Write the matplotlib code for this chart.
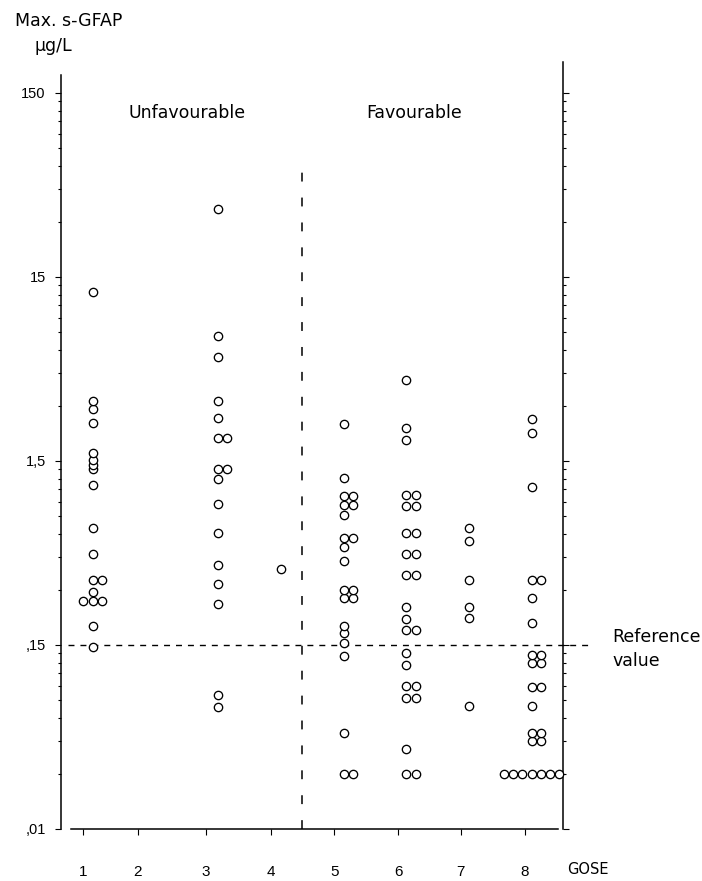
import numpy as np
import matplotlib
matplotlib.use("Agg")
import matplotlib.pyplot as plt
from matplotlib.ticker import FixedLocator, FixedFormatter

plt.rcParams['font.family'] = ['Liberation Sans', 'DejaVu Sans']

# ---------------- data (Max. s-GFAP, ug/L) ----------------
gose_categories = [1, 2, 3, 4, 5, 6, 7, 8]
gose1 = [12.5, 3.19, 2.86, 2.40, 1.66, 1.51, 1.43, 1.35, 1.11, 0.65, 0.47,
         0.34, 0.34, 0.29, 0.26, 0.26, 0.26, 0.19, 0.146]
gose2 = []
gose3 = [35.0, 7.2, 5.5, 3.19, 2.56, 2.0, 2.0, 1.35, 1.35, 1.19, 0.88, 0.61,
         0.41, 0.32, 0.25, 0.08, 0.069]
gose4 = [0.39]
gose5 = [2.38, 1.21, 0.97, 0.97, 0.865, 0.865, 0.76, 0.57, 0.57, 0.51, 0.43,
         0.30, 0.30, 0.27, 0.27, 0.19, 0.174, 0.153, 0.13, 0.05, 0.03, 0.03]
gose6 = [4.13, 2.26, 1.95, 0.98, 0.98, 0.85, 0.85, 0.61, 0.61, 0.47, 0.47,
         0.36, 0.36, 0.242, 0.208, 0.182, 0.182, 0.136, 0.117, 0.09, 0.09,
         0.077, 0.077, 0.041, 0.03, 0.03]
gose7 = [0.65, 0.55, 0.34, 0.242, 0.21, 0.07]
gose8 = [2.54, 2.14, 1.08, 0.34, 0.34, 0.27, 0.198, 0.132, 0.132, 0.119, 0.119,
         0.089, 0.089, 0.07, 0.05, 0.05, 0.045, 0.045,
         0.03, 0.03, 0.03, 0.03, 0.03, 0.03, 0.03]
groups = [gose1, gose2, gose3, gose4, gose5, gose6, gose7, gose8]

reference_value = 0.15
ytick_values = [0.015, 0.15, 1.5, 15, 150]
ytick_labels = [',01', ',15', '1,5', '15', '150']
xtick_labels = ['1', '2', '3', '4', '5', '6', '7', '8']

# ---------------- layout ----------------
W, H = 702, 881
fig = plt.figure(figsize=(W / 100, H / 100), dpi=100)
ax_left_px, ax_right_px = 61.35, 563.0
ax_top_px, ax_bot_px = 62.0, 829.0
ax = fig.add_axes([ax_left_px / W, 1 - ax_bot_px / H,
                   (ax_right_px - ax_left_px) / W, (ax_bot_px - ax_top_px) / H])
ax.set_yscale('log')
ax.set_xlim(0.5, 8.5)
ax.set_ylim(0.015, 221)

# tick positions (labels sit slightly left of the dot columns)
xtick_pos = [0.845, 1.72, 2.81, 3.84, 4.85, 5.87, 6.87, 7.89]
step = 0.148  # horizontal offset for tied values

for cat, vals in zip(gose_categories, groups):
    if not vals:
        continue
    vals = np.array(vals)
    xs, ys = [], []
    for v in np.unique(vals):
        n = int(np.sum(vals == v))
        offs = np.arange(n) - (n - 1) // 2
        xs.extend(cat + offs * step)
        ys.extend([v] * n)
    ax.plot(xs, ys, linestyle='none', marker='o', markersize=6.0,
            markerfacecolor='white', markeredgecolor='black',
            markeredgewidth=0.95, clip_on=False, zorder=3)

# reference line and divider
ax.axhline(reference_value, xmin=(68 - ax_left_px) / (ax_right_px - ax_left_px),
           xmax=(592 - ax_left_px) / (ax_right_px - ax_left_px),
           color='black', lw=1.0, dashes=(4.3, 4.3), clip_on=False, zorder=2)
divider = (xtick_pos[3] + xtick_pos[4]) / 2
ax.axvline(divider, ymin=0, ymax=(ax_bot_px - 165) / (ax_bot_px - ax_top_px),
           color='black', lw=1.1, dashes=(5.8, 10.5), zorder=2)

# spines
ax.spines['top'].set_visible(False)
for s in ['left', 'right', 'bottom']:
    ax.spines[s].set_linewidth(1.1)
ax.spines['left'].set_bounds(0.015, 188)
ax.spines['bottom'].set_bounds(0.646, 8.42)

# ticks
ax.yaxis.set_major_locator(FixedLocator(ytick_values))
ax.yaxis.set_major_formatter(FixedFormatter(ytick_labels))
minor = [b * k for b in [0.015, 0.15, 1.5, 15] for k in range(2, 10)]
ax.yaxis.set_minor_locator(FixedLocator(minor))
ax.yaxis.set_minor_formatter(FixedFormatter([''] * len(minor)))
ax.tick_params(axis='y', which='major', direction='out', length=4.3, width=0.8,
               left=True, right=True, labelleft=True, labelright=False,
               labelsize=10.5, pad=7)
ax.tick_params(axis='y', which='minor', direction='out', length=2.2, width=0.8,
               left=True, right=True)
ax.set_xticks(xtick_pos)
ax.set_xticklabels(xtick_labels)
ax.tick_params(axis='x', which='major', direction='out', length=4.0, width=0.8,
               labelsize=11, pad=22)
ax.tick_params(axis='x', which='minor', bottom=False)

# texts
txt_font = ['DejaVu Sans']

def ftxt(x, y, s, **kw):
    fig.text(x / W, 1 - y / H, s, family=txt_font, **kw)

ftxt(15, 21, 'Max. s-GFAP', fontsize=12.5, ha='left', va='center')
ftxt(35, 46, 'µg/L', fontsize=12.5, ha='left', va='center')
ftxt(187, 113, 'Unfavourable', fontsize=12.5, ha='center', va='center')
ftxt(414, 113, 'Favourable', fontsize=12.5, ha='center', va='center')
ftxt(612, 637, 'Reference', fontsize=12.5, ha='left', va='center')
ftxt(612, 661, 'value', fontsize=12.5, ha='left', va='center')
ftxt(567, 870, 'GOSE', fontsize=10.5, ha='left', va='center')

fig.savefig('out.png', dpi=100, facecolor='white')
